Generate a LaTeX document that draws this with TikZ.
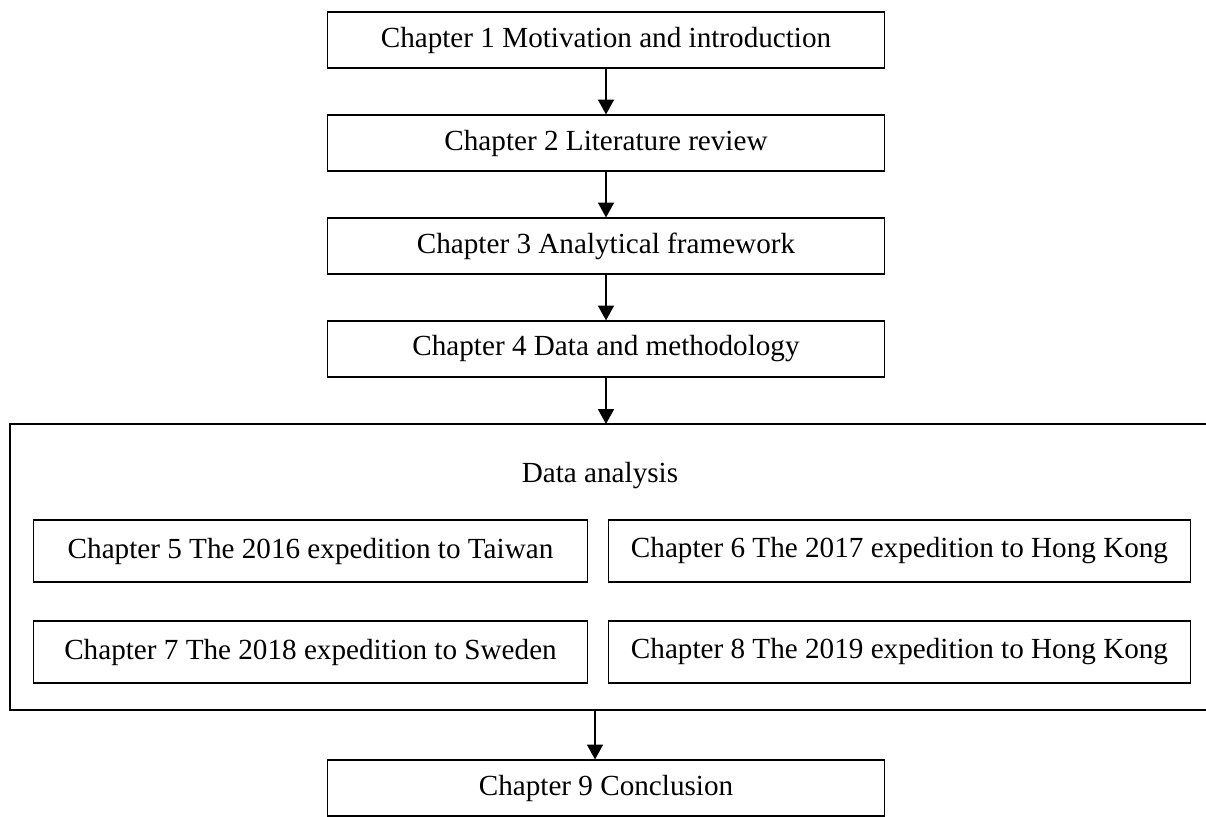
\documentclass[tikz,border=0pt]{standalone}
\usepackage{fontspec}
\setmainfont{Liberation Serif}
\usetikzlibrary{arrows.meta}

\tikzset{
  chapbox/.style={draw, line width=0.6pt, minimum width=11.14cm, minimum height=1.12cm, inner sep=0pt, font=\fontsize{16.6}{19}\selectfont},
  subbox/.style={chapbox, minimum height=1.24cm},
  flow/.style={line width=1.3pt, -{Triangle[length=8.5pt,width=9pt]}}
}

\begin{document}
\begin{tikzpicture}[x=0.02cm, y=-0.02cm]
\useasboundingbox (0,0) rectangle (1206,816);

% upper chapters
\node[chapbox] (c1) at (606,40) {Chapter 1 Motivation and introduction};
\node[chapbox] (c2) at (606,143) {Chapter 2 Literature review};
\node[chapbox] (c3) at (606,246) {Chapter 3 Analytical framework};
\node[chapbox] (c4) at (606,349) {Chapter 4 Data and methodology};

% data analysis block (open on the right)
\draw[line width=1.5pt] (1206,424) -- (10,424) -- (10,710) -- (1206,710);
\coordinate (datatop) at (606,424);
\coordinate (databot) at (595,710);
\node[font=\fontsize{16.6}{19}\selectfont] (data) at (600,476) {Data analysis};

\node[subbox, minimum width=11.1cm] (c5) at (310.5,551) {Chapter 5 The 2016 expedition to Taiwan};
\node[subbox, minimum width=11.66cm] (c6) at (899.5,551) {Chapter 6 The 2017 expedition to Hong Kong};
\node[subbox, minimum width=11.1cm] (c7) at (310.5,652) {Chapter 7 The 2018 expedition to Sweden};
\node[subbox, minimum width=11.66cm] (c8) at (899.5,652) {Chapter 8 The 2019 expedition to Hong Kong};

\node[chapbox] (c9) at (606,788) {Chapter 9 Conclusion};

% arrows
\draw[flow] (c1) -- (c2);
\draw[flow] (c2) -- (c3);
\draw[flow] (c3) -- (c4);
\draw[flow] (c4) -- (datatop);
\draw[flow] (databot) -- (databot |- c9.north);
\end{tikzpicture}
\end{document}
